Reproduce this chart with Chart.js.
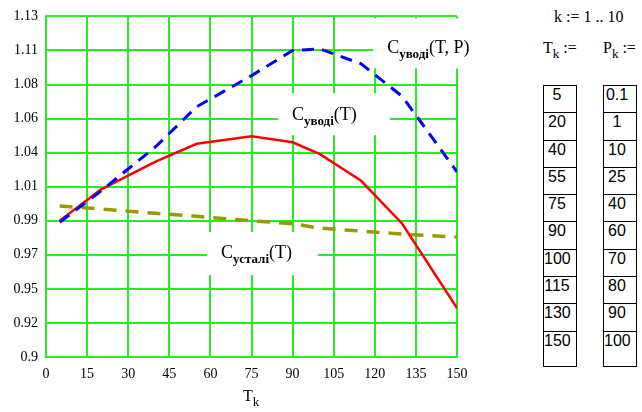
<!DOCTYPE html>
<html>
<head>
<meta charset="utf-8">
<script src="https://cdn.jsdelivr.net/npm/chart.js@4/dist/chart.umd.min.js"></script>
<style>
    body { margin: 0; background: #fff; }
    #wrap { position: relative; width: 642px; height: 412px; overflow: hidden; background: #fff; }
    #chart { position: absolute; left: 0; top: 0; }
    .serif { position: absolute; font-family: "Liberation Serif", serif; color: #000; white-space: nowrap; }
    .serif sub { font-size: 13px; vertical-align: -5px; }
    .col { position: absolute; top: 85px; width: 34px; border: 1px solid #000; box-sizing: border-box; }
    .cell { box-sizing: border-box; height: 27.3px; line-height: 27px; border-bottom: 1px solid #000;
            font: 16px "Liberation Sans", sans-serif; text-align: center; padding-right: 6px; }
    .cell.last { border-bottom: none; height: 34.7px; }
</style>
</head>
<body>
<div id="wrap">
    <canvas id="chart" width="500" height="412"></canvas>
    <div class="serif" style="left:243px; top:387px; font-size:16px;">T<sub>k</sub></div>
    <div class="serif" style="left:554px; top:8px; font-size:16px;">k := 1 .. 10</div>
    <div class="serif" style="left:543px; top:39px; font-size:16px;">T<sub>k</sub> :=</div>
    <div class="serif" style="left:603px; top:39px; font-size:16px;">P<sub>k</sub> :=</div>
    <div class="col" id="colT" style="left:543px;"></div>
    <div class="col" id="colP" style="left:603px;"></div>
</div>
<script>
// T_k and P_k (also the x values of every curve)
const T = [5, 20, 40, 55, 75, 90, 100, 115, 130, 150];
const P = [0.1, 1, 10, 25, 40, 60, 70, 80, 90, 100];

// curves at T_k
const cWaterTP = [0.991, 1.012, 1.042, 1.069, 1.090, 1.107, 1.108, 1.098, 1.076, 1.025];
const cWaterT = [0.992, 1.013, 1.032, 1.044, 1.049, 1.045, 1.037, 1.019, 0.990, 0.933];
const cSteelT = [1.002, 1.000, 0.997, 0.995, 0.992, 0.990, 0.987, 0.985, 0.983, 0.981];

// axis ticks
const xTickValues = [0, 15, 30, 45, 60, 75, 90, 105, 120, 135, 150];
const yTickValues = [0.9, 0.923, 0.946, 0.969, 0.992, 1.015, 1.038, 1.061, 1.084, 1.107, 1.13];
const yTickLabels = ['0.9', '0.92', '0.95', '0.97', '0.99', '1.01', '1.04', '1.06', '1.08', '1.11', '1.13'];

// inline curve names: anchor at text start (data coords), white box offset in px
const curveLabels = [
    { sub: 'уводі', tail: '(T, P)', t: 124.5, v: 1.105, box: [-14, -35, 118, 50] },
    { sub: 'уводі', tail: '(T)', t: 89.8, v: 1.0599, box: [-14, -27, 112, 42] },
    { sub: 'усталі', tail: '(T)', t: 63.9, v: 0.9668, box: [-14, -26, 111, 43] }
];

function fillColumn(id, values) {
    const col = document.getElementById(id);
    values.forEach((v, i) => {
        const cell = document.createElement('div');
        cell.className = 'cell' + (i === values.length - 1 ? ' last' : '');
        cell.textContent = v;
        col.appendChild(cell);
    });
}
fillColumn('colT', T);
fillColumn('colP', P);

const toPoints = arr => T.map((t, i) => ({ x: t, y: arr[i] }));

const curveLabelPlugin = {
    id: 'curveLabels',
    beforeDatasetsDraw(chart) {
        const { ctx, scales: { x, y } } = chart;
        ctx.save();
        curveLabels.forEach(l => {
            const px = x.getPixelForValue(l.t);
            const py = y.getPixelForValue(l.v);
            ctx.fillStyle = '#fff';
            ctx.fillRect(px + l.box[0], py + l.box[1], l.box[2], l.box[3]);
            ctx.fillStyle = '#000';
            ctx.textBaseline = 'alphabetic';
            ctx.font = '18px "Liberation Serif"';
            ctx.fillText('C', px, py);
            let cx = px + ctx.measureText('C').width;
            ctx.font = 'bold 13px "Liberation Serif"';
            ctx.fillText(l.sub, cx, py + 5);
            cx += ctx.measureText(l.sub).width;
            ctx.font = '18px "Liberation Serif"';
            ctx.fillText(l.tail, cx, py);
        });
        ctx.restore();
    }
};

const green = '#22ee22';

new Chart(document.getElementById('chart').getContext('2d'), {
    type: 'line',
    data: {
        datasets: [
            {
                label: 'C уводі(T, P)',
                data: toPoints(cWaterTP),
                borderColor: '#0000ff',
                borderWidth: 3,
                borderDash: [12, 8],
                pointRadius: 0,
                tension: 0
            },
            {
                label: 'C уводі(T)',
                data: toPoints(cWaterT),
                borderColor: '#ff0000',
                borderWidth: 2.5,
                pointRadius: 0,
                tension: 0
            },
            {
                label: 'C усталі(T)',
                data: toPoints(cSteelT),
                borderColor: '#999900',
                borderWidth: 3.5,
                borderDash: [13, 9],
                pointRadius: 0,
                tension: 0
            }
        ]
    },
    options: {
        responsive: false,
        animation: false,
        layout: { padding: { top: 16, right: 43, left: 0, bottom: 0 } },
        plugins: { legend: { display: false }, tooltip: { enabled: false } },
        scales: {
            x: {
                type: 'linear',
                min: 0,
                max: 150,
                afterBuildTicks: scale => { scale.ticks = xTickValues.map(v => ({ value: v })); },
                afterFit: scale => { scale.height = 55; },
                grid: { color: green, lineWidth: 2, drawTicks: false },
                border: { color: green, width: 2 },
                ticks: { padding: 9, color: '#000', font: { family: 'Liberation Serif', size: 14 }, maxRotation: 0 }
            },
            y: {
                min: 0.9,
                max: 1.13,
                afterBuildTicks: scale => { scale.ticks = yTickValues.map(v => ({ value: v })); },
                afterFit: scale => { scale.width = 46; },
                grid: { color: green, lineWidth: 2, drawTicks: false },
                border: { color: green, width: 2 },
                ticks: {
                    padding: 8,
                    color: '#000',
                    font: { family: 'Liberation Serif', size: 14 },
                    callback: (value, index) => yTickLabels[index]
                }
            }
        }
    },
    plugins: [curveLabelPlugin]
});
</script>
</body>
</html>
